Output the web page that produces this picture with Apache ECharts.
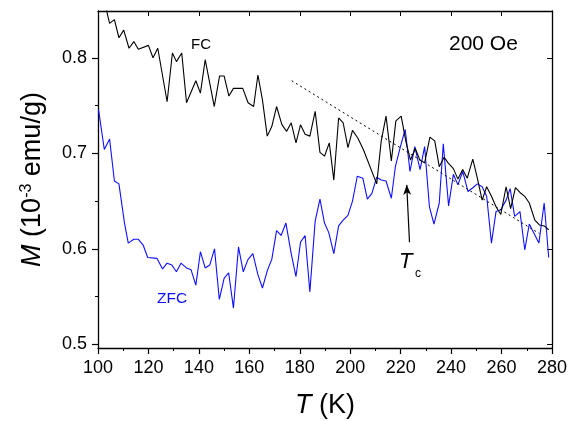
<!DOCTYPE html>
<html><head><meta charset="utf-8">
<script src="https://cdn.jsdelivr.net/npm/echarts@6/dist/echarts.min.js"></script>
<style>html,body{margin:0;padding:0;background:#fff}#c{width:572px;height:421px}</style>
</head><body><div id="c"></div>
<script>
// FC curve: [T (K), M (1e-3 emu/g)]
var fcData = [[100.8,0.872],[102.7,0.857],[104.6,0.836],[106.5,0.840],[108.3,0.821],[110.2,0.829],[112.3,0.810],[114.2,0.817],[116.0,0.809],[120.0,0.813],[121.8,0.800],[123.7,0.810],[127.4,0.754],[129.5,0.805],[131.1,0.796],[133.2,0.805],[135.1,0.753],[138.8,0.776],[140.6,0.763],[142.5,0.798],[146.1,0.749],[148.2,0.781],[150.0,0.781],[151.9,0.760],[153.7,0.768],[157.4,0.768],[159.5,0.753],[161.7,0.749],[163.4,0.782],[165.2,0.756],[167.1,0.718],[168.9,0.728],[170.8,0.749],[172.9,0.730],[174.8,0.723],[176.6,0.732],[178.5,0.711],[180.3,0.730],[182.1,0.720],[184.0,0.718],[186.1,0.744],[188.0,0.701],[189.8,0.697],[191.7,0.711],[193.5,0.672],[195.4,0.737],[197.2,0.732],[199.1,0.706],[200.9,0.724],[203.0,0.716],[205.2,0.704],[210.5,0.668],[212.3,0.713],[214.2,0.739],[216.3,0.692],[218.1,0.734],[220.2,0.739],[222.1,0.712],[223.9,0.693],[225.8,0.705],[227.6,0.693],[229.5,0.690],[231.6,0.717],[233.5,0.713],[235.3,0.686],[237.2,0.696],[238.8,0.690],[240.9,0.684],[242.7,0.673],[244.6,0.683],[246.4,0.674],[248.6,0.694],[250.4,0.674],[252.3,0.651],[254.1,0.665],[256.0,0.655],[257.8,0.644],[259.7,0.636],[261.8,0.665],[263.6,0.642],[265.5,0.664],[267.3,0.659],[269.2,0.655],[271.0,0.648],[273.2,0.630],[275.0,0.625],[276.9,0.624],[278.7,0.620]];
// ZFC curve
var zfcData = [[100.2,0.746],[102.5,0.704],[104.6,0.715],[106.5,0.671],[108.3,0.668],[110.5,0.627],[112.0,0.606],[114.2,0.610],[116.0,0.610],[117.9,0.604],[119.7,0.591],[123.4,0.590],[125.6,0.579],[127.4,0.585],[129.3,0.583],[131.1,0.576],[132.9,0.585],[135.1,0.580],[136.9,0.578],[138.8,0.562],[140.6,0.597],[142.5,0.580],[144.3,0.583],[146.2,0.600],[148.1,0.547],[150.0,0.569],[151.8,0.575],[153.7,0.538],[155.7,0.602],[157.6,0.576],[159.5,0.589],[161.4,0.595],[163.4,0.573],[165.2,0.559],[167.1,0.577],[168.9,0.589],[170.8,0.619],[172.6,0.614],[174.5,0.627],[176.6,0.595],[178.5,0.571],[180.3,0.607],[182.1,0.614],[184.0,0.555],[186.1,0.629],[188.0,0.652],[189.8,0.627],[191.5,0.617],[193.5,0.595],[195.4,0.624],[197.2,0.630],[199.1,0.635],[200.9,0.650],[202.8,0.676],[205.0,0.674],[206.8,0.652],[208.6,0.658],[210.5,0.675],[212.3,0.672],[214.2,0.671],[216.3,0.653],[217.9,0.686],[219.9,0.707],[221.8,0.725],[223.7,0.681],[225.6,0.707],[227.7,0.683],[229.5,0.707],[231.4,0.644],[233.2,0.626],[235.3,0.648],[236.9,0.710],[239.0,0.645],[240.9,0.678],[242.7,0.667],[244.6,0.681],[246.7,0.660],[248.6,0.664],[250.4,0.668],[252.3,0.665],[254.1,0.655],[256.0,0.606],[257.8,0.639],[259.7,0.641],[261.8,0.651],[263.4,0.663],[265.2,0.634],[267.3,0.639],[269.2,0.599],[271.0,0.626],[272.9,0.616],[274.8,0.606],[276.9,0.648],[278.7,0.591]];
// dotted guide line and Tc arrow
var guideLine = [[176.8,0.776],[275.0,0.616]];
var tcArrow = [[223.5,0.607],[222.4,0.667]];
// ticks
var yMajor = [0.5,0.6,0.7,0.8];
var yMinor = [0.55,0.65,0.75];
var xMin = 100, xMax = 280, xStep = 20;
var yMin = 0.4962, yMax = 0.849;

var FF = '"Liberation Sans", Arial, sans-serif';
var chart = echarts.init(document.getElementById('c'));
var axLine = {show:true, lineStyle:{color:'#000', width:1.3}};
chart.setOption({
  animation:false,
  backgroundColor:'#fff',
  grid:{left:98, right:20, top:11, bottom:73, containLabel:false, outerBoundsMode:'none'},
  xAxis:[
    {type:'value', min:xMin, max:xMax, interval:xStep, position:'bottom',
     axisLine:axLine, axisTick:{show:true, inside:false, length:6, lineStyle:{color:'#000', width:1.2}},
     minorTick:{show:true, splitNumber:2, length:3, lineStyle:{color:'#000', width:1}},
     splitLine:{show:false},
     axisLabel:{show:true, margin:11, fontSize:18, fontFamily:FF, color:'#000'},
     name:'{i|T} (K)', nameLocation:'middle', nameGap:44,
     nameTextStyle:{fontSize:27, fontFamily:FF, color:'#000', rich:{i:{fontStyle:'italic', fontSize:27, fontFamily:FF, color:'#000'}}}},
    {type:'value', min:xMin, max:xMax, interval:xStep, position:'top',
     axisLine:axLine, axisTick:{show:true, inside:true, length:5, lineStyle:{color:'#000', width:1}},
     minorTick:{show:false}, splitLine:{show:false}, axisLabel:{show:false}}
  ],
  yAxis:[
    {type:'value', min:yMin, max:yMax, position:'left',
     axisLine:axLine,
     axisTick:{show:true, inside:false, length:6, customValues:yMajor, lineStyle:{color:'#000', width:1.2}},
     axisLabel:{show:true, margin:11, fontSize:18, fontFamily:FF, color:'#000', customValues:yMajor,
       formatter:function(v){return v.toFixed(1);}},
     splitLine:{show:false},
     name:'{i|M} (10{s|-3} emu/g)', nameLocation:'middle', nameGap:52, nameRotate:90,
     nameTextStyle:{fontSize:27, fontFamily:FF, color:'#000',
       rich:{i:{fontStyle:'italic', fontSize:27, fontFamily:FF, color:'#000'},
             s:{fontSize:16, fontFamily:FF, color:'#000', verticalAlign:'top'}}}},
    {type:'value', min:yMin, max:yMax, position:'left',
     axisLine:{show:false},
     axisTick:{show:true, inside:false, length:3, customValues:yMinor, lineStyle:{color:'#000', width:1}},
     axisLabel:{show:false, customValues:yMinor}, splitLine:{show:false}},
    {type:'value', min:yMin, max:yMax, position:'right',
     axisLine:axLine,
     axisTick:{show:true, inside:true, length:5, customValues:yMajor, lineStyle:{color:'#000', width:1}},
     axisLabel:{show:false, customValues:yMajor}, splitLine:{show:false}}
  ],
  series:[
    {type:'line', name:'FC', data:fcData, showSymbol:false, clip:true,
     lineStyle:{color:'#000', width:1.1}, z:3},
    {type:'line', name:'ZFC', data:zfcData, showSymbol:false, clip:true,
     lineStyle:{color:'#1010ff', width:1.1}, z:2},
    {type:'line', name:'guide', data:guideLine, showSymbol:false,
     lineStyle:{color:'#000', width:1, type:[2,3]}, z:4},
    {type:'line', name:'arrow', data:[], showSymbol:false,
     markLine:{silent:true, symbol:['none','arrow'], symbolSize:[6,10], label:{show:false},
       lineStyle:{color:'#000', width:1.2, type:'solid'},
       data:[[{coord:tcArrow[0]},{coord:tcArrow[1]}]]}}
  ],
  graphic:[
    {type:'text', left:191, top:37, style:{text:'FC', font:'15px '+FF, fill:'#000'}},
    {type:'text', left:157, top:291, style:{text:'ZFC', font:'15.5px '+FF, fill:'#1010ff'}},
    {type:'text', left:449, top:34, style:{text:'200 Oe', font:'21px '+FF, fill:'#000'}},
    {type:'text', left:399, top:251, style:{text:'T', font:'italic 22px '+FF, fill:'#000'}},
    {type:'text', left:415, top:268, style:{text:'c', font:'12px '+FF, fill:'#000'}}
  ]
});
</script></body></html>
